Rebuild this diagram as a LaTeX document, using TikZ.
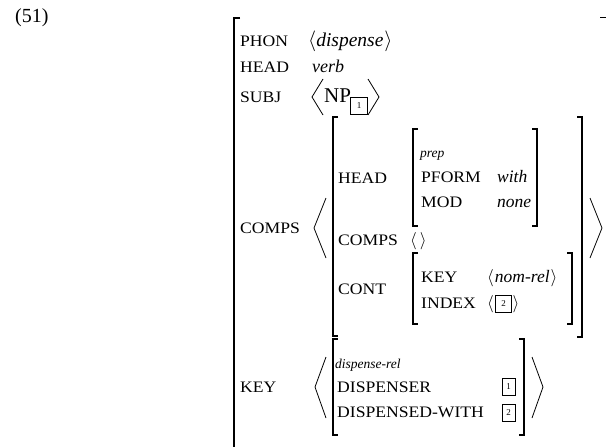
\documentclass[tikz,border=0pt]{standalone}
\usepackage{fontspec}
\setmainfont{Liberation Serif}
\newfontfamily\attrfont[FakeStretch=1.1]{Liberation Serif}
\begin{document}
\begin{tikzpicture}[x=1pt,y=-1pt,
  attr/.style={anchor=base west,inner sep=0pt,font=\attrfont\fontsize{16}{16}\selectfont},
  val/.style={anchor=base west,inner sep=0pt,font=\itshape\fontsize{17.5}{17.5}\selectfont},
  typ/.style={anchor=base west,inner sep=0pt,font=\itshape\fontsize{13.5}{13.5}\selectfont},
  tagbox/.style={draw,line width=0.7pt,inner sep=0pt,minimum width=13pt,minimum height=17pt,font=\fontsize{9}{9}\selectfont},
  brk/.style={line width=1.1pt},
  ang/.style={line width=0.8pt}]
\useasboundingbox (0,0) rectangle (607,447);

\node[anchor=base west,inner sep=0pt,font=\fontsize{20}{20}\selectfont] (ex) at (15,22) {(51)};

% outer bracket
\draw[brk] (240,18) -- (234,18) -- (234,447);
\draw[brk] (600,17.5) -- (606,17.5);

% top rows
\node[attr] (phon) at (240,46.5) {PHON};
\node[val,font=\itshape\fontsize{19.5}{19.5}\selectfont] (phonv) at (308,46.5) {$\langle$dispense\kern1pt$\rangle$};
\node[attr] (head) at (240,72.5) {HEAD};
\node[val,font=\itshape\fontsize{18}{18}\selectfont] (headv) at (312,72.5) {verb};
\node[attr] (subj) at (240,102.5) {SUBJ};
\draw[ang] (323,79) -- (312,97) -- (323,115);
\node[anchor=base west,inner sep=0pt,font=\fontsize{21}{21}\selectfont] (np) at (324,102) {NP};
\node[tagbox,minimum width=17pt,minimum height=17pt] (t1a) at (359,106) {1};
\draw[ang] (368,79) -- (379,97) -- (368,115);

% COMPS
\node[attr] (comps) at (240,233.5) {COMPS};
\draw[ang] (326,198) -- (314,228) -- (326,258);
\draw[ang] (590,198) -- (602,228) -- (590,258);
\draw[brk] (338,117) -- (333,117) -- (333,336) -- (338,336);
\draw[brk] (577,117) -- (582,117) -- (582,337) -- (577,337);

\node[attr] (head2) at (338,183.5) {HEAD};
\draw[brk] (418,129) -- (413,129) -- (413,226) -- (418,226);
\draw[brk] (532,129) -- (537,129) -- (537,226) -- (532,226);
\node[typ] (prep) at (420,157.5) {prep};
\node[attr] (pform) at (421,182.5) {PFORM};
\node[val] (with) at (497,182.5) {with};
\node[attr] (mod) at (421,207.5) {MOD};
\node[val] (none) at (497,207.5) {none};

\node[attr] (comps2) at (338,245.5) {COMPS};
\node[val] (empty) at (410,245.5) {$\langle\,\rangle$};

\node[attr] (cont) at (338,294.5) {CONT};
\draw[brk] (418,253) -- (413,253) -- (413,324) -- (418,324);
\draw[brk] (567,253) -- (572,253) -- (572,324) -- (567,324);
\node[attr] (key2) at (421,282.5) {KEY};
\node[val] (nomrel) at (487,282.5) {$\langle$\kern1pt nom-rel\kern1pt$\rangle$};
\node[attr] (index) at (421,308.5) {INDEX};
\node[val] (la2) at (487,308.5) {$\langle$};
\node[tagbox,minimum width=16pt,minimum height=17pt] (t2a) at (503.5,303.5) {2};
\node[val] (ra2) at (512.5,308.5) {$\rangle$};

% KEY
\node[attr] (key) at (240,392.5) {KEY};
\draw[ang] (326,357) -- (315,387) -- (326,418);
\draw[ang] (532,357) -- (543,387) -- (532,418);
\draw[brk] (338,339) -- (333,339) -- (333,435) -- (338,435);
\draw[brk] (519,339) -- (524,339) -- (524,435) -- (519,435);
\node[typ] (drel) at (335,368) {dispense-rel};
\node[attr] (dser) at (337,392.5) {DISPENSER};
\node[tagbox] (t1b) at (508.5,387) {1};
\node[attr] (dwith) at (337,417.5) {DISPENSED-WITH};
\node[tagbox] (t2b) at (508.5,413) {2};
\end{tikzpicture}
\end{document}
